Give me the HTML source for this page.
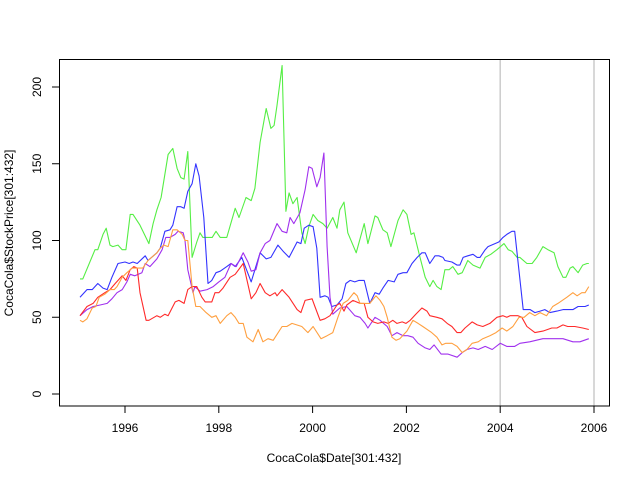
<!DOCTYPE html>
<html><head><meta charset="utf-8"><style>
html,body{margin:0;padding:0;background:#fff;}
svg{display:block;font-family:"Liberation Sans",Arial,sans-serif;}
</style></head><body>
<svg id="chart" width="640" height="480" xmlns="http://www.w3.org/2000/svg">
<rect x="0" y="0" width="640" height="480" fill="#fff"/>
<g id="grid"></g><g id="series"></g><g id="axes"></g>
</svg>
<script>
const xTicks=[1996,1998,2000,2002,2004,2006];
const yTicks=[0,50,100,150,200];
const vlines=[2004,2006];
const greenDates=[1995.04,1995.10,1995.36,1995.42,1995.53,1995.60,1995.68,1995.74,1995.85,1995.94,1996.02,1996.11,1996.17,1996.32,1996.51,1996.60,1996.68,1996.77,1996.92,1997.02,1997.11,1997.19,1997.26,1997.34,1997.43,1997.53,1997.60,1997.66,1997.86,1997.94,1998.03,1998.17,1998.35,1998.43,1998.58,1998.69,1998.77,1998.88,1999.01,1999.11,1999.18,1999.24,1999.35,1999.43,1999.50,1999.58,1999.67,1999.77,1999.84,1999.92,2000.01,2000.11,2000.22,2000.31,2000.43,2000.52,2000.58,2000.67,2000.75,2000.93,2001.10,2001.18,2001.33,2001.39,2001.50,2001.59,2001.67,2001.82,2001.93,2002.01,2002.10,2002.16,2002.29,2002.40,2002.50,2002.57,2002.65,2002.74,2002.82,2002.91,2002.99,2003.10,2003.19,2003.31,2003.42,2003.57,2003.68,2003.80,2003.93,2004.08,2004.17,2004.25,2004.36,2004.42,2004.57,2004.68,2004.78,2004.91,2005.02,2005.15,2005.23,2005.34,2005.40,2005.49,2005.55,2005.66,2005.76,2005.85,2005.89];
const greenValues=[75,75,94,94,104,108,97,96,97,94,94,117,117,110,98,111,120,128,156,160,147,141,140,158,89,99,105,102,102,106,102,102,121,115,128,126,134,164,186,173,175,188,214,119,131,124,128,105,98,109,117,113,111,108,115,108,120,125,105,92,111,98,116,115,107,105,96,113,120,117,104,105,89,76,70,74,70,68,81,81,83,78,79,87,84,82,89,91,94,98,94,93,89,89,85,85,89,96,94,92,83,76,76,82,83,79,84,85,85];
const blueDates=[1995.04,1995.19,1995.30,1995.42,1995.53,1995.62,1995.72,1995.85,1996.00,1996.09,1996.17,1996.26,1996.43,1996.49,1996.68,1996.75,1996.85,1996.96,1997.02,1997.11,1997.19,1997.26,1997.34,1997.43,1997.51,1997.58,1997.68,1997.77,1997.85,1997.94,1998.03,1998.17,1998.26,1998.35,1998.49,1998.69,1998.77,1998.88,1999.01,1999.11,1999.26,1999.37,1999.50,1999.67,1999.75,1999.82,1999.92,2000.01,2000.09,2000.16,2000.26,2000.33,2000.41,2000.52,2000.63,2000.71,2000.80,2000.90,2000.99,2001.10,2001.22,2001.33,2001.42,2001.50,2001.61,2001.74,2001.82,2001.93,2002.01,2002.12,2002.23,2002.33,2002.40,2002.50,2002.61,2002.69,2002.78,2002.82,2002.97,2003.08,2003.14,2003.21,2003.31,2003.42,2003.51,2003.57,2003.68,2003.74,2003.89,2003.97,2004.06,2004.14,2004.25,2004.31,2004.49,2004.64,2004.74,2004.85,2004.95,2005.06,2005.21,2005.34,2005.42,2005.55,2005.66,2005.81,2005.89];
const blueValues=[63,68,68,72,69,68,76,85,86,85,86,85,90,87,92,95,106,107,110,122,122,121,132,137,150,142,115,72,74,79,80,83,85,83,89,73,81,92,88,89,97,93,89,99,98,108,110,109,95,63,64,63,57,58,62,72,74,73,74,74,59,66,65,69,74,73,78,79,79,85,89,92,92,85,90,90,89,87,86,84,84,89,90,91,89,89,94,96,98,99,102,104,106,106,55,55,53,54,55,53,54,55,55,55,57,57,58];
const purpleDates=[1995.04,1995.19,1995.32,1995.47,1995.62,1995.72,1995.83,1995.94,1996.04,1996.11,1996.21,1996.36,1996.43,1996.53,1996.68,1996.79,1996.87,1996.96,1997.07,1997.13,1997.24,1997.28,1997.34,1997.45,1997.49,1997.60,1997.75,1997.88,1998.00,1998.13,1998.26,1998.37,1998.52,1998.62,1998.69,1998.79,1998.88,1998.99,1999.09,1999.24,1999.35,1999.45,1999.52,1999.60,1999.73,1999.84,1999.92,1999.99,2000.09,2000.16,2000.24,2000.31,2000.37,2000.43,2000.58,2000.73,2000.90,2001.01,2001.12,2001.18,2001.33,2001.44,2001.59,2001.69,2001.80,2001.93,2002.03,2002.14,2002.25,2002.40,2002.50,2002.59,2002.74,2002.89,2003.08,2003.19,2003.29,2003.42,2003.53,2003.68,2003.83,2004.00,2004.14,2004.31,2004.42,2004.63,2004.91,2005.12,2005.34,2005.55,2005.70,2005.89];
const purpleValues=[51,55,57,58,59,62,66,68,73,78,77,79,85,83,88,94,102,102,104,106,105,100,81,66,70,67,68,70,73,76,85,83,92,86,80,81,92,98,100,111,106,105,115,111,118,133,148,147,135,141,157,96,63,52,56,57,51,50,46,43,50,48,44,38,40,38,38,37,33,30,29,32,26,26,24,27,29,30,29,31,29,33,31,31,33,34,36,36,36,34,34,36];
const redDates=[1995.04,1995.19,1995.32,1995.42,1995.57,1995.68,1995.79,1995.94,1996.02,1996.11,1996.19,1996.26,1996.32,1996.45,1996.51,1996.68,1996.75,1996.85,1996.92,1997.07,1997.15,1997.26,1997.34,1997.43,1997.53,1997.64,1997.71,1997.85,1997.92,1998.00,1998.09,1998.24,1998.35,1998.52,1998.69,1998.79,1998.88,1998.99,1999.09,1999.20,1999.24,1999.35,1999.50,1999.67,1999.75,1999.84,1999.99,2000.05,2000.16,2000.26,2000.37,2000.52,2000.58,2000.67,2000.73,2000.86,2001.01,2001.10,2001.18,2001.29,2001.39,2001.52,2001.61,2001.71,2001.80,2001.91,2001.99,2002.08,2002.20,2002.33,2002.44,2002.50,2002.65,2002.76,2002.87,2002.97,2003.08,2003.16,2003.25,2003.40,2003.51,2003.63,2003.78,2003.93,2004.06,2004.14,2004.21,2004.29,2004.38,2004.46,2004.57,2004.74,2004.91,2005.10,2005.21,2005.34,2005.44,2005.59,2005.76,2005.89];
const redValues=[51,57,59,63,66,68,72,77,74,81,83,82,66,48,48,51,50,52,51,60,61,59,68,70,70,63,60,60,66,66,69,76,78,85,62,66,72,66,64,66,64,68,63,55,53,61,62,57,48,49,51,58,59,54,58,61,59,59,50,47,46,47,46,48,46,47,46,48,52,56,54,51,50,49,46,44,40,40,43,47,45,44,46,50,51,50,51,51,51,50,44,40,41,43,43,45,44,44,43,42];
const orangeDates=[1995.04,1995.10,1995.19,1995.30,1995.38,1995.45,1995.57,1995.68,1995.77,1995.83,1995.94,1996.04,1996.15,1996.26,1996.38,1996.49,1996.68,1996.75,1996.83,1996.92,1997.02,1997.11,1997.22,1997.28,1997.34,1997.43,1997.51,1997.60,1997.73,1997.85,1997.94,1998.03,1998.17,1998.26,1998.35,1998.43,1998.52,1998.60,1998.73,1998.84,1998.94,1999.05,1999.16,1999.35,1999.45,1999.56,1999.77,1999.90,2000.01,2000.18,2000.31,2000.43,2000.54,2000.65,2000.75,2000.88,2000.95,2001.01,2001.22,2001.35,2001.44,2001.52,2001.59,2001.69,2001.78,2001.86,2002.01,2002.14,2002.25,2002.35,2002.54,2002.65,2002.76,2002.84,2002.97,2003.08,2003.19,2003.29,2003.40,2003.53,2003.63,2003.78,2003.91,2004.04,2004.14,2004.27,2004.40,2004.51,2004.63,2004.74,2004.85,2004.99,2005.12,2005.23,2005.42,2005.55,2005.64,2005.74,2005.81,2005.89];
const orangeValues=[48,47,49,56,57,63,65,68,68,70,76,79,82,82,82,87,92,95,97,96,107,107,104,100,100,70,57,57,53,50,51,46,51,53,50,46,46,37,34,42,34,36,35,44,44,46,44,40,44,36,38,40,50,59,61,66,64,59,59,64,61,57,50,37,35,36,41,48,46,44,40,37,32,33,33,31,27,29,33,34,36,38,40,43,41,44,50,50,53,51,53,51,57,59,63,66,64,66,66,70];

const X0=125,PXY=46.9,Y0=394,PXV=1.535;
function sx(v){return X0+(v-1996)*PXY;}
function sy(v){return Y0-v*PXV;}
const NS="http://www.w3.org/2000/svg";
function mk(tag,attrs,parent){const e=document.createElementNS(NS,tag);for(const k in attrs)e.setAttribute(k,attrs[k]);parent.appendChild(e);return e;}
const grid=document.getElementById('grid'),ser=document.getElementById('series'),ax=document.getElementById('axes');
vlines.forEach(v=>{const l=mk('line',{x1:sx(v),x2:sx(v),y1:59,y2:406,stroke:'#cccccc','stroke-width':1.5},grid);

});
const series=[
 ['green-series',greenDates,greenValues,'#55ee44'],
 ['blue-series',blueDates,blueValues,'#3333ff'],
 ['purple-series',purpleDates,purpleValues,'#a030ee'],
 ['red-series',redDates,redValues,'#ff2a2a'],
 ['orange-series',orangeDates,orangeValues,'#ffa040']];
series.forEach(s=>{const pts=s[1].map((d,i)=>sx(d).toFixed(1)+','+sy(s[2][i]).toFixed(1)).join(' ');
const p=mk('polyline',{points:pts,fill:'none',stroke:s[3],'stroke-width':1.1,'stroke-linejoin':'round'},ser);

});
const box=mk('rect',{x:59.5,y:59.5,width:550,height:346.5,fill:'none',stroke:'#000','stroke-width':1},ax);


xTicks.forEach(t=>{mk('line',{x1:sx(t),x2:sx(t),y1:406,y2:413,stroke:'#000'},ax);
const tx=mk('text',{x:sx(t),y:432,'text-anchor':'middle','font-size':12},ax);tx.textContent=t;

});
mk('line',{x1:sx(1996),x2:sx(2006),y1:406,y2:406,stroke:'#000'},ax);
yTicks.forEach(t=>{mk('line',{x1:52,x2:59,y1:sy(t),y2:sy(t),stroke:'#000'},ax);
const tx=mk('text',{x:41,y:sy(t),'text-anchor':'middle','font-size':12,transform:'rotate(-90 41 '+sy(t)+')'},ax);tx.textContent=t;

});
const xt=mk('text',{x:334,y:462,'text-anchor':'middle','font-size':12},ax);xt.textContent='CocaCola$Date[301:432]';


const yt=mk('text',{x:13,y:233,'text-anchor':'middle','font-size':12,transform:'rotate(-90 13 233)'},ax);yt.textContent='CocaCola$StockPrice[301:432]';


</script>
</body></html>
